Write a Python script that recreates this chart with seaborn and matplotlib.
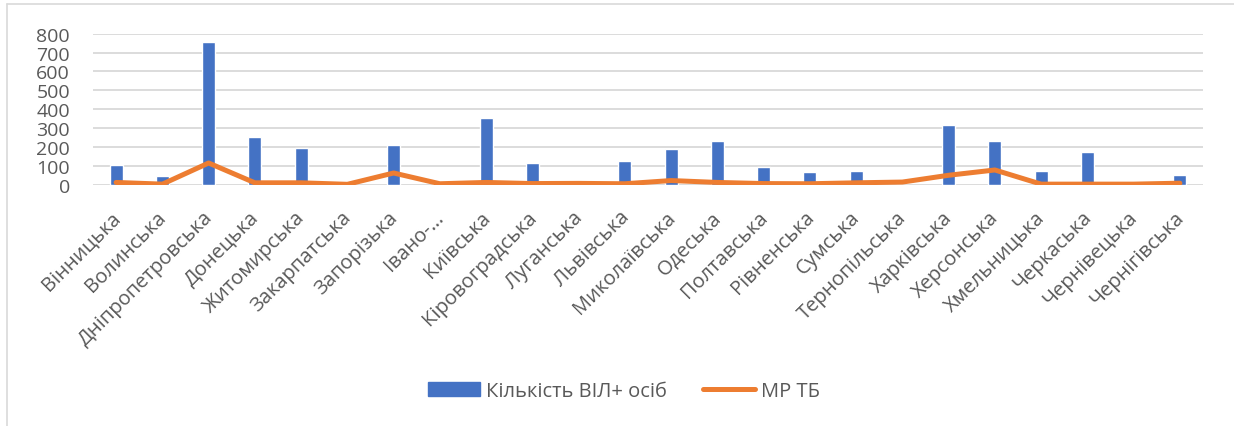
import numpy as np
import pandas as pd
import matplotlib
matplotlib.use("Agg")
import matplotlib.pyplot as plt
from matplotlib.lines import Line2D
from matplotlib.transforms import ScaledTranslation
import seaborn as sns

regions = ["Вінницька", "Волинська", "Дніпропетровська", "Донецька", "Житомирська",
           "Закарпатська", "Запорізька", "Івано-…", "Київська", "Кіровоградська",
           "Луганська", "Львівська", "Миколаївська", "Одеська", "Полтавська",
           "Рівненська", "Сумська", "Тернопільська", "Харківська", "Херсонська",
           "Хмельницька", "Черкаська", "Чернівецька", "Чернігівська"]
hiv_count = [104, 46, 758, 251, 193, 0, 209, 18, 355, 113, 0, 126, 188, 230, 92,
             66, 73, 0, 316, 230, 71, 175, 0, 53]
mr_tb = [12, 3, 115, 10, 10, 2, 62, 5, 12, 6, 7, 5, 22, 12, 6, 5, 10, 14, 50, 78,
         3, 3, 3, 8]
yticks = [0, 100, 200, 300, 400, 500, 600, 700, 800]
series_names = ["Кількість ВІЛ+ осіб", "МР ТБ"]

BLUE = "#4472C4"
ORANGE = "#ED7D31"
GRID = "#D9D9D9"
TXT = "#595959"

sns.set_theme(style="white")
plt.rcParams["font.family"] = ["Open Sans", "DejaVu Sans"]

fig = plt.figure(figsize=(12.34, 4.27), dpi=100)
ax = fig.add_axes([93 / 1234, 1 - 185.7 / 427, (1203 - 93) / 1234, 151 / 427])

df = pd.DataFrame({"region": regions, "hiv": hiv_count, "mr": mr_tb})
sns.barplot(data=df, x="region", y="hiv", color=BLUE, width=0.28, saturation=1,
            ax=ax, label=series_names[0], zorder=2)
sns.lineplot(x=np.arange(len(regions)), y=df["mr"], color=ORANGE, linewidth=3.6,
             ax=ax, label=series_names[1], zorder=3, solid_capstyle="round")

ax.set_xlim(-0.5, len(regions) - 0.5)
ax.set_ylim(0, 800)
ax.set_yticks(yticks)
ax.set_yticklabels([str(v) for v in yticks])
ax.yaxis.grid(True, color=GRID, linewidth=1.3, zorder=0)
ax.set_axisbelow(True)
for s in ax.spines.values():
    s.set_visible(False)
ax.set_xlabel("")
ax.set_ylabel("")
ax.tick_params(axis="y", length=0, pad=16.5, labelsize=14, labelcolor=TXT)
ax.tick_params(axis="x", length=0, pad=16, labelsize=14.5, labelcolor=TXT)
ax.set_xticks(np.arange(len(regions)))
ax.set_xticklabels(regions, rotation=45, ha="right", rotation_mode="anchor")
shift = ScaledTranslation(-6 / 100, 0, fig.dpi_scale_trans)
for lab in ax.get_xticklabels():
    lab.set_transform(lab.get_transform() + shift)

if ax.legend_:
    ax.legend_.remove()
handles = [plt.Rectangle((0, 0), 1, 1, color=BLUE),
           Line2D([0], [0], color=ORANGE, linewidth=3.6, solid_capstyle="round")]
fig.legend(handles, series_names, loc="center", bbox_to_anchor=(624 / 1234, 1 - 392 / 427),
           ncol=2, frameon=False, fontsize=14.5, labelcolor=TXT, handlelength=2.6,
           handleheight=0.65, handletextpad=0.3, columnspacing=1.8)

fig.add_artist(Line2D([7 / 1234, 1], [1 - 5 / 427, 1 - 5 / 427], transform=fig.transFigure,
                      color=GRID, linewidth=1.2))
fig.add_artist(Line2D([7 / 1234, 7 / 1234], [0, 1 - 5 / 427], transform=fig.transFigure,
                      color=GRID, linewidth=1.2))

fig.savefig("out.png", dpi=100, facecolor="white")
